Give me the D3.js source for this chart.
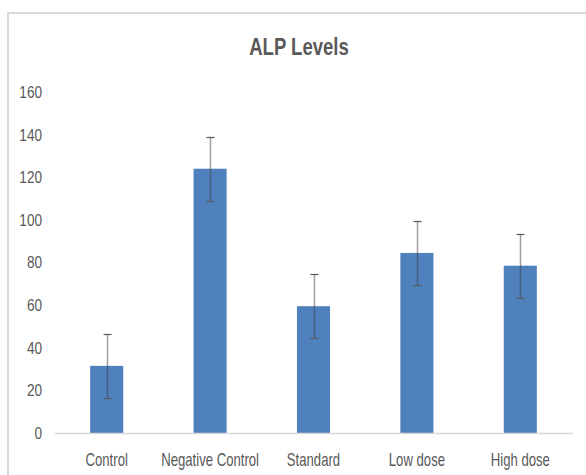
<!DOCTYPE html>
<html>
<head>
<meta charset="utf-8">
<script src="https://cdn.jsdelivr.net/npm/d3@7"></script>
<style>
  html, body { margin: 0; padding: 0; background: #fff; }
  svg { display: block; }
  text { font-family: "Liberation Sans", Arial, sans-serif; fill: #595959; }
</style>
</head>
<body>
<svg id="chart" width="586" height="475"></svg>
<script>
const title = "ALP Levels";
const categories = ["Control", "Negative Control", "Standard", "Low dose", "High dose"];
const values = [31.5, 124, 59.5, 84.5, 78.5];
const errors = [15, 15, 15, 15, 15];
const yTicks = [0, 20, 40, 60, 80, 100, 120, 140, 160];

const svg = d3.select("#chart");
const W = 586, H = 475;
const FONT = '"Liberation Sans", Arial, sans-serif';

// chart border
svg.append("rect")
  .attr("x", 8).attr("y", 13)
  .attr("width", W + 10).attr("height", H + 10)
  .attr("fill", "#fff").attr("stroke", "#d9d9d9").attr("stroke-width", 2);

const x = d3.scaleBand().domain(categories).range([55, 572]).paddingInner(0.68).paddingOuter(0.34);
const y = d3.scaleLinear().domain([0, 160]).range([433, 92]);

// title
svg.append("text")
  .attr("transform", "translate(299,54.5) scale(0.79,1)")
  .attr("text-anchor", "middle")
  .attr("font-size", 23.5).attr("font-weight", "bold")
  .text(title);

// y axis labels
const yAxis = d3.axisLeft(y).tickValues(yTicks).tickSize(0).tickPadding(0);
const yg = svg.append("g").attr("transform", "translate(42,0)").call(yAxis);
yg.select(".domain").remove();
yg.selectAll("text")
  .attr("x", null)
  .attr("transform", "scale(0.8,1)")
  .attr("font-size", 17).attr("fill", "#595959")
  .style("font-family", FONT);

// bars
svg.append("g").selectAll("rect").data(categories).join("rect")
  .attr("x", d => x(d))
  .attr("y", (d, i) => y(values[i]))
  .attr("width", x.bandwidth())
  .attr("height", (d, i) => y(0) - y(values[i]))
  .attr("fill", "#4f81bd");

// baseline
svg.append("line")
  .attr("x1", 55).attr("x2", 573)
  .attr("y1", y(0) + 0.5).attr("y2", y(0) + 0.5)
  .attr("stroke", "#d9d9d9").attr("stroke-width", 1.5);

// x axis labels
const xAxis = d3.axisBottom(x).tickSize(0).tickPadding(0);
const xg = svg.append("g").attr("transform", "translate(0,466)").call(xAxis);
xg.select(".domain").remove();
xg.selectAll("text")
  .attr("y", 0).attr("dy", null)
  .attr("transform", "scale(0.73,1)")
  .attr("font-size", 18).attr("fill", "#595959")
  .style("font-family", FONT);

// error bars
const eg = svg.append("g");
categories.forEach((c, i) => {
  const cx = Math.round(x(c) + x.bandwidth() / 2) + 0.5;
  const top = y(values[i] + errors[i]);
  const bot = y(values[i] - errors[i]);
  eg.append("line").attr("x1", cx).attr("x2", cx).attr("y1", top).attr("y2", bot)
    .attr("stroke", "#404040").attr("stroke-opacity", 0.5).attr("stroke-width", 1.5);
  [top, bot].forEach(yy => {
    eg.append("line").attr("x1", cx - 4).attr("x2", cx + 4)
      .attr("y1", Math.round(yy) + 0.5).attr("y2", Math.round(yy) + 0.5)
      .attr("stroke", "#595959").attr("stroke-width", 1.2);
  });
});
</script>
</body>
</html>
